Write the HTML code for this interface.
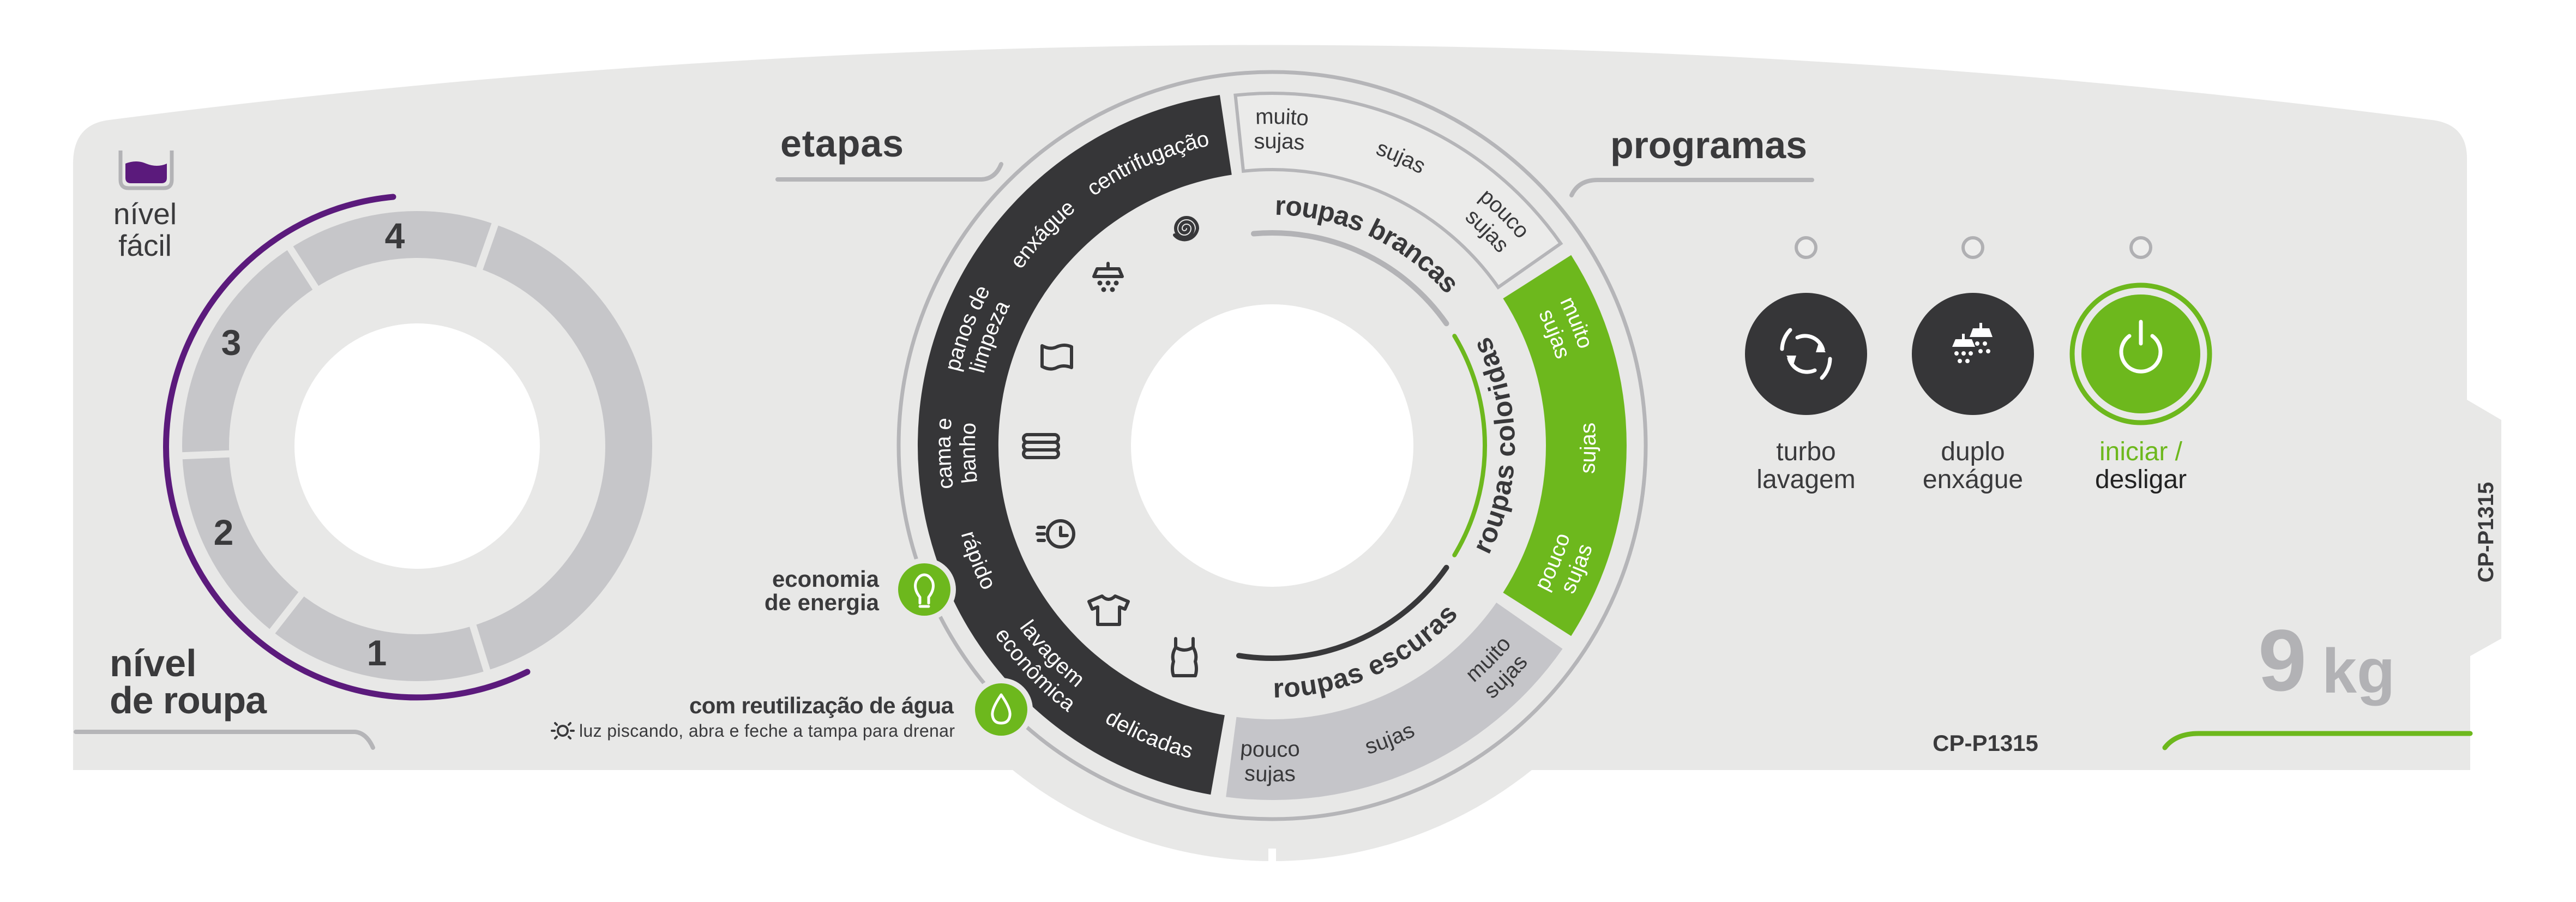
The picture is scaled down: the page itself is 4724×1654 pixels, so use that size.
<!DOCTYPE html>
<html><head><meta charset="utf-8"><style>
html,body{margin:0;padding:0;background:#fff;}
svg{display:block;}
text{font-family:"Liberation Sans",sans-serif;}
</style></head><body>
<svg width="4724" height="1654" viewBox="0 0 4724 1654" xmlns="http://www.w3.org/2000/svg">
<defs>
<path id="cw440" d="M2773,817 A440,440 0 1 1 1893,817 A440,440 0 1 1 2773,817"/>
<path id="cw558" d="M2891,817 A558,558 0 1 1 1775,817 A558,558 0 1 1 2891,817"/>
<path id="cw575" d="M2908,817 A575,575 0 1 1 1758,817 A575,575 0 1 1 2908,817"/>
<path id="cw580" d="M2913,817 A580,580 0 1 1 1753,817 A580,580 0 1 1 2913,817"/>
<path id="cw603" d="M2936,817 A603,603 0 1 1 1730,817 A603,603 0 1 1 2936,817"/>
<path id="cc428" d="M1905,817 A428,428 0 1 0 2761,817 A428,428 0 1 0 1905,817"/>
<path id="cc445" d="M1888,817 A445,445 0 1 0 2778,817 A445,445 0 1 0 1888,817"/>
<path id="cc558" d="M1775,817 A558,558 0 1 0 2891,817 A558,558 0 1 0 1775,817"/>
<path id="cc580" d="M1753,817 A580,580 0 1 0 2913,817 A580,580 0 1 0 1753,817"/>
<path id="cc603" d="M1730,817 A603,603 0 1 0 2936,817 A603,603 0 1 0 1730,817"/>
<clipPath id="lower"><rect x="0" y="600" width="4724" height="1100"/></clipPath>
</defs>

<!-- panel -->
<path d="M134,300 Q134,228 200,220 Q2333,-55 4460,220 Q4524,228 4524,290 L4524,733 L4587,770 L4587,1171 L4530,1203 L4530,1412 L134,1412 Z" fill="#e8e8e7"/>
<circle cx="2333" cy="817" r="762" fill="#e8e8e7" clip-path="url(#lower)"/>
<rect x="2326" y="1556" width="14" height="24" fill="#fff"/>

<!-- LEFT DIAL -->
<circle cx="765" cy="818" r="388" fill="none" stroke="#c6c6c9" stroke-width="86"/>
<g stroke="#e8e8e7" stroke-width="13">
<line x1="765" y1="818" x2="918" y2="382"/>
<line x1="765" y1="818" x2="516" y2="430"/>
<line x1="765" y1="818" x2="304" y2="837"/>
<line x1="765" y1="818" x2="481" y2="1181"/>
<line x1="765" y1="818" x2="902" y2="1259"/>
</g>
<circle cx="765" cy="818" r="340" fill="#e8e8e7"/>
<circle cx="765" cy="818" r="225" fill="#fff"/>
<path d="M967,1232 A460,460 0 1 1 721,361" fill="none" stroke="#5b1a7c" stroke-width="11" stroke-linecap="round"/>
<g font-weight="bold" font-size="66" fill="#3a3a3c" text-anchor="middle" dominant-baseline="central">
<text x="724" y="432">4</text><text x="424" y="628">3</text><text x="410" y="976">2</text><text x="691" y="1197">1</text>
</g>
<!-- nivel facil icon -->
<path d="M221,276 L221,330 Q221,345 236,345 L300,345 Q315,345 315,330 L315,276" fill="none" stroke="#b3b3b6" stroke-width="7"/>
<path d="M230,300 Q250,292 268,300 Q288,308 306,300 L306,326 Q306,336 296,336 L240,336 Q230,336 230,326 Z" fill="#5b1a7c"/>
<g font-size="55" fill="#3a3a3c" text-anchor="middle">
<text x="266" y="411">nível</text><text x="266" y="469">fácil</text>
</g>
<g font-size="70" font-weight="bold" fill="#3a3a3c">
<text x="201" y="1240">nível</text><text x="201" y="1308" textLength="288">de roupa</text>
</g>
<path d="M139,1342 L651,1342 Q672,1344 684,1371" fill="none" stroke="#b5b5b8" stroke-width="8" stroke-linecap="round"/>

<!-- etapas / programas -->
<text x="1431" y="287" font-size="70" font-weight="bold" fill="#3a3a3c" textLength="226">etapas</text>
<path d="M1426,329 L1800,329 Q1825,328 1836,301" fill="none" stroke="#b5b5b8" stroke-width="8" stroke-linecap="round"/>
<text x="2953" y="290" font-size="70" font-weight="bold" fill="#3a3a3c" textLength="361">programas</text>
<path d="M2882,358 Q2895,330 2930,330 L3323,330" fill="none" stroke="#b5b5b8" stroke-width="8" stroke-linecap="round"/>

<!-- CENTER DIAL -->
<circle cx="2333" cy="817" r="685" fill="none" stroke="#b5b5b8" stroke-width="7"/>
<path d="M2220.2,1457.1 A650,650 0 0 1 2236.9,174.1 L2258.8,320.5 A502,502 0 0 0 2245.9,1311.4 Z" fill="#363638"/>
<path d="M2265.5,174.6 A646,646 0 0 1 2862.2,446.5 L2747.5,526.8 A506,506 0 0 0 2280.1,313.8 Z" fill="#ebebea" stroke="#b5b5b8" stroke-width="6"/>
<path d="M2881.2,467.8 A650,650 0 0 1 2881.2,1166.2 L2756.4,1086.7 A502,502 0 0 0 2756.4,547.3 Z" fill="#6db81d"/>
<path d="M2865.5,1189.8 A650,650 0 0 1 2248.2,1461.4 L2267.5,1314.7 A502,502 0 0 0 2744.2,1105.0 Z" fill="#c5c5c9"/>
<circle cx="2333" cy="817" r="259" fill="#fff"/>
<path d="M2299,428.5 A390,390 0 0 1 2652.5,593.3" fill="none" stroke="#b3b3b6" stroke-width="10" stroke-linecap="round"/>
<path d="M2667.3,616.1 A390,390 0 0 1 2667.3,1017.9" fill="none" stroke="#6db81d" stroke-width="8" stroke-linecap="round"/>
<path d="M2652.5,1040.7 A390,390 0 0 1 2272,1202.2" fill="none" stroke="#38383a" stroke-width="10" stroke-linecap="round"/>

<g font-size="50" font-weight="bold" fill="#38383a" text-anchor="middle">
<text dominant-baseline="central"><textPath href="#cw440" startOffset="2265.4">roupas brancas</textPath></text>
<text dominant-baseline="central"><textPath href="#cc428" startOffset="1344.6">roupas coloridas</textPath></text>
<text dominant-baseline="central"><textPath href="#cc445" startOffset="885.4">roupas escuras</textPath></text>
</g>

<g font-size="40" fill="#ffffff" text-anchor="middle">
<text dominant-baseline="central"><textPath href="#cw575" startOffset="2471.8">centrifugação</textPath></text>
<text dominant-baseline="central"><textPath href="#cw575" startOffset="2233.9">enxágue</textPath></text>
<text dominant-baseline="central"><textPath href="#cw603" startOffset="2115.4">panos de</textPath></text>
<text dominant-baseline="central"><textPath href="#cw558" startOffset="1957.5">limpeza</textPath></text>
<text dominant-baseline="central"><textPath href="#cw603" startOffset="1879.7">cama e</textPath></text>
<text dominant-baseline="central"><textPath href="#cw558" startOffset="1739.4">banho</textPath></text>
<text dominant-baseline="central"><textPath href="#cc580" startOffset="215.6">rápido</textPath></text>
<text dominant-baseline="central"><textPath href="#cc558" startOffset="422.7">lavagem</textPath></text>
<text dominant-baseline="central"><textPath href="#cc603" startOffset="456.8">econômica</textPath></text>
<text dominant-baseline="central"><textPath href="#cc580" startOffset="678.2">delicadas</textPath></text>
<text dominant-baseline="central"><textPath href="#cw603" startOffset="3557.2">muito</textPath></text>
<text dominant-baseline="central"><textPath href="#cw558" startOffset="3295.7">sujas</textPath></text>
<text dominant-baseline="central"><textPath href="#cc580" startOffset="1817.1">sujas</textPath></text>
<text dominant-baseline="central"><textPath href="#cc558" startOffset="1533.9">pouco</textPath></text>
<text dominant-baseline="central"><textPath href="#cc603" startOffset="1662.8">sujas</textPath></text>
</g>
<g font-size="40" fill="#38383a" text-anchor="middle">
<text dominant-baseline="central"><textPath href="#cw603" startOffset="2859.4">muito</textPath></text>
<text dominant-baseline="central"><textPath href="#cw558" startOffset="2642.2">sujas</textPath></text>
<text dominant-baseline="central"><textPath href="#cw580" startOffset="2976.2">sujas</textPath></text>
<text dominant-baseline="central"><textPath href="#cw603" startOffset="3315.2">pouco</textPath></text>
<text dominant-baseline="central"><textPath href="#cw558" startOffset="3067.8">sujas</textPath></text>
<text dominant-baseline="central"><textPath href="#cc558" startOffset="1317.7">muito</textPath></text>
<text dominant-baseline="central"><textPath href="#cc603" startOffset="1423.9">sujas</textPath></text>
<text dominant-baseline="central"><textPath href="#cc580" startOffset="1131.8">sujas</textPath></text>
<text dominant-baseline="central"><textPath href="#cc558" startOffset="872.6">pouco</textPath></text>
<text dominant-baseline="central"><textPath href="#cc603" startOffset="943.0">sujas</textPath></text>
</g>

<!-- inner icons -->
<g fill="none" stroke="#38383a" stroke-width="6" stroke-linecap="round" stroke-linejoin="round">
<g transform="translate(2176,419)">
<path d="M-4,0 A4,4 0 0 1 4,0 A8,8 0 0 1 -12,0 A12,12 0 0 1 12,0 A16,16 0 0 1 -20,0 A20,20 0 0 1 20,0 A24,24 0 0 1 -22,12"/>
</g>
<g transform="translate(2032,511)">
<path d="M0,-28 V-18 M-26,-4 L-20,-18 L20,-18 L26,-4 Z"/>
</g>
<g transform="translate(1938,654)">
<path d="M-27,-20 Q-12,-12 0,-18 Q14,-24 27,-18 L27,20 Q12,14 0,20 Q-12,26 -27,18 Z"/>
</g>
<g transform="translate(1909,818)">
<rect x="-32" y="-21" width="64" height="14" rx="7"/>
<rect x="-32" y="-7" width="64" height="14" rx="7"/>
<rect x="-32" y="7" width="64" height="14" rx="7"/>
</g>
<g transform="translate(1937,979)">
<circle cx="8" cy="0" r="24"/>
<path d="M8,-12 V3 H20 M-33,-12 H-22 M-35,0 H-22 M-33,12 H-22"/>
</g>
<g transform="translate(2033,1119)">
<path d="M-12,-26 L-36,-16 L-30,-2 L-20,-6 L-20,26 L20,26 L20,-6 L30,-2 L36,-16 L12,-26 Q0,-14 -12,-26 Z"/>
</g>
<g transform="translate(2172,1205)">
<path d="M-16,-34 V-18 Q-24,-4 -20,8 Q-24,22 -20,34 H20 Q24,22 20,8 Q24,-4 16,-18 V-34 M-16,-18 Q0,-8 16,-18"/>
</g>
</g>
<g fill="#38383a" transform="translate(2032,511)">
<circle cx="-15" cy="8" r="4.5"/><circle cx="0" cy="8" r="4.5"/><circle cx="15" cy="8" r="4.5"/>
<circle cx="-8" cy="20" r="4.5"/><circle cx="8" cy="20" r="4.5"/>
</g>

<!-- bulbs -->
<circle cx="1695" cy="1081" r="58" fill="#e8e8e7"/>
<circle cx="1695" cy="1081" r="48" fill="#6db81d"/>
<path d="M1687,1106 L1687,1095 Q1675,1080 1680,1066 Q1686,1054 1695,1054 Q1704,1054 1710,1066 Q1715,1080 1703,1095 L1703,1106 M1687,1112 H1703" fill="none" stroke="#fff" stroke-width="5" stroke-linecap="round" stroke-linejoin="round"/>
<circle cx="1836" cy="1301" r="58" fill="#e8e8e7"/>
<circle cx="1836" cy="1301" r="48" fill="#6db81d"/>
<path d="M1836,1274 Q1818,1300 1820,1312 Q1822,1326 1836,1326 Q1850,1326 1852,1312 Q1854,1300 1836,1274 Z" fill="none" stroke="#fff" stroke-width="5" stroke-linejoin="round"/>
<g font-weight="bold" font-size="42" fill="#3a3a3c" text-anchor="end">
<text x="1612" y="1076">economia</text>
<text x="1612" y="1119">de energia</text>
</g>
<text x="1264" y="1308" font-weight="bold" font-size="42" fill="#3a3a3c" textLength="485">com reutilização de água</text>
<text x="1062" y="1351" font-size="32" fill="#3a3a3c" textLength="689">luz piscando, abra e feche a tampa para drenar</text>
<g fill="none" stroke="#3a3a3c" stroke-width="4" stroke-linecap="round">
<circle cx="1032" cy="1340" r="9"/>
<path d="M1012,1340 H1017 M1047,1340 H1052 M1018,1326 L1021,1329 M1046,1326 L1043,1329 M1018,1354 L1021,1351 M1046,1354 L1043,1351"/>
</g>

<!-- buttons -->
<g fill="#ededec" stroke="#b0b0b3" stroke-width="6">
<circle cx="3312" cy="454" r="18"/><circle cx="3618" cy="454" r="18"/><circle cx="3926" cy="454" r="18"/>
</g>
<circle cx="3312" cy="649" r="112" fill="#363638"/>
<circle cx="3618" cy="649" r="112" fill="#363638"/>
<circle cx="3926" cy="649" r="126" fill="none" stroke="#6db81d" stroke-width="9"/>
<circle cx="3926" cy="649" r="109" fill="#6db81d"/>
<g fill="none" stroke="#fff" stroke-width="7" stroke-linecap="round">
<path d="M3296,619 A34,34 0 0 1 3343,641"/>
<path d="M3328,679 A34,34 0 0 1 3281,657"/>
<path d="M3283,605 A52,52 0 0 0 3268,640"/>
<path d="M3341,693 A52,52 0 0 0 3356,658"/>
<path d="M3926,590 V630"/>
<path d="M3905,616 A36,36 0 1 0 3947,616"/>
</g>
<g fill="#fff">
<path d="M3336,626 L3348,646 L3330,646 Z"/>
<path d="M3288,672 L3276,652 L3294,652 Z"/>
<path d="M3580,636 L3586,622 L3616,622 L3622,636 Z"/>
<rect x="3598" y="612" width="5" height="12"/>
<path d="M3612,618 L3618,602 L3648,602 L3654,618 Z"/>
<rect x="3630" y="592" width="5" height="12"/>
<circle cx="3588" cy="648" r="4"/><circle cx="3601" cy="648" r="4"/><circle cx="3614" cy="648" r="4"/>
<circle cx="3594" cy="662" r="4"/><circle cx="3608" cy="662" r="4"/>
<circle cx="3626" cy="630" r="4"/><circle cx="3640" cy="630" r="4"/><circle cx="3632" cy="644" r="4"/><circle cx="3646" cy="644" r="4"/>
</g>
<g font-size="48" fill="#3a3a3c" text-anchor="middle">
<text x="3312" y="844">turbo</text><text x="3312" y="895">lavagem</text>
<text x="3618" y="844">duplo</text><text x="3618" y="895">enxágue</text>
<text x="3926" y="844" fill="#6db81d">iniciar /</text><text x="3926" y="895" fill="#222">desligar</text>
</g>

<!-- right bottom -->
<text x="4141" y="1266" font-size="160" font-weight="bold" fill="#b2b2b5">9</text>
<text x="4258" y="1270" font-size="115" font-weight="bold" fill="#b2b2b5">kg</text>
<text x="3641" y="1377" font-size="42" font-weight="bold" fill="#3a3a3c" text-anchor="middle">CP-P1315</text>
<path d="M3970,1371 Q3990,1345 4032,1345 L4530,1345" fill="none" stroke="#6db81d" stroke-width="9" stroke-linecap="round"/>
<text transform="translate(4559,976) rotate(-90)" font-size="40" font-weight="bold" fill="#3a3a3c" text-anchor="middle" dominant-baseline="central">CP-P1315</text>
</svg>
</body></html>
